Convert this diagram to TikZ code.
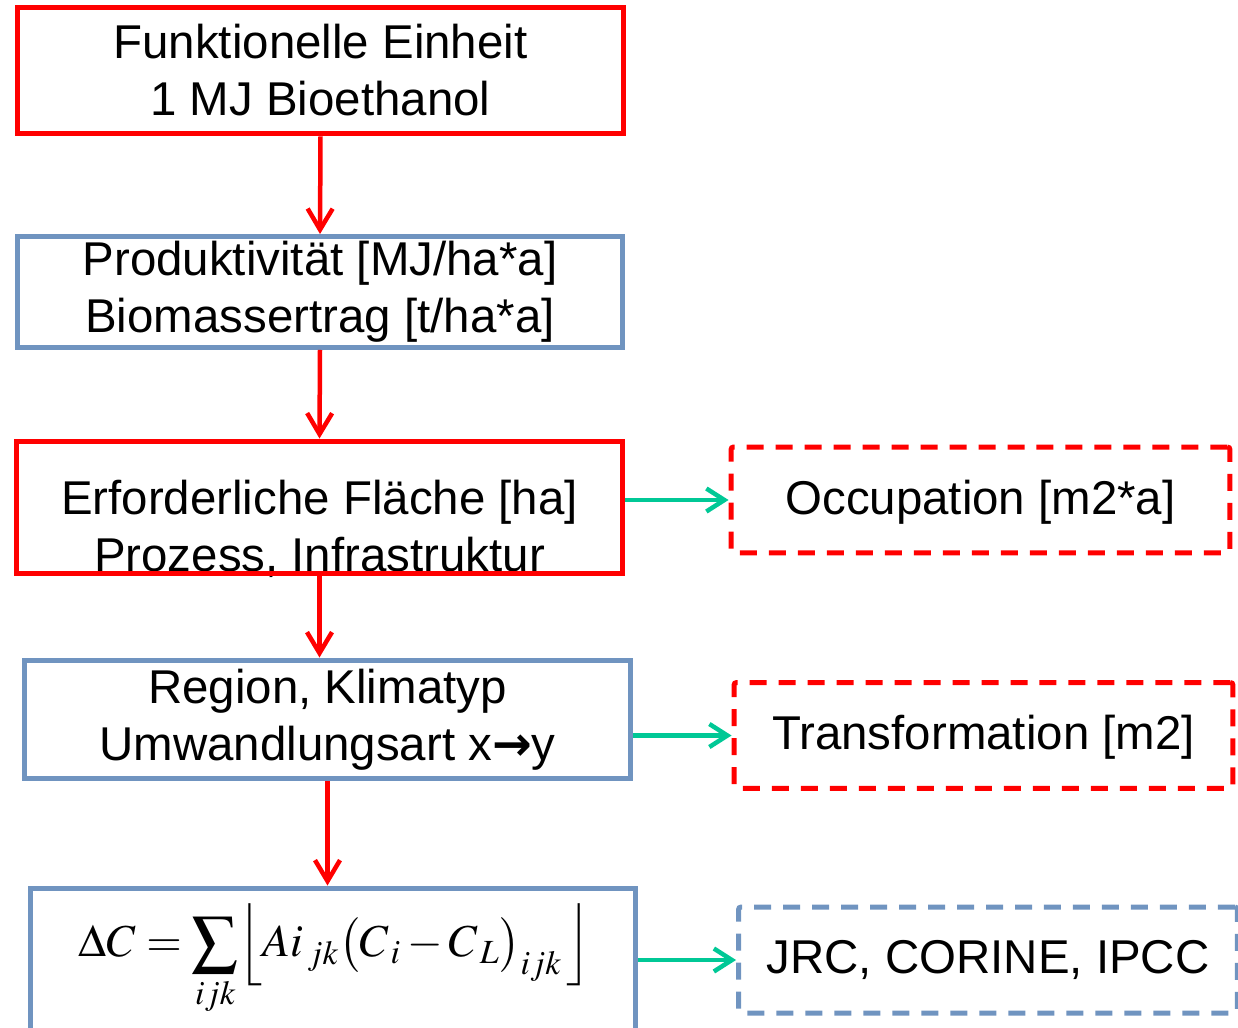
\documentclass[tikz,border=0pt]{standalone}
\usepackage{mathptmx}
\usepackage{fontspec}
\setmainfont{Liberation Sans}
\newfontfamily\pfeilfont{DejaVu Sans}
\usepackage{xcolor}
\usetikzlibrary{arrows.meta, calc}
\definecolor{boxred}{RGB}{255,0,0}
\definecolor{boxblue}{RGB}{112,148,192}
\definecolor{arrowgreen}{RGB}{0,200,150}
\tikzstyle{redbox} = [draw=boxred, line width=0.1cm, inner sep=0pt, minimum width=12.14cm, align=center]
\tikzstyle{bluebox} = [draw=boxblue, line width=0.1cm, inner sep=0pt, minimum width=12.12cm, align=center]
\tikzstyle{dashbox} = [line width=0.1cm, dash pattern=on 0.34cm off 0.24cm, rounded corners=0.05cm, minimum width=9.98cm, minimum height=2.12cm, text depth=0.12cm]
\tikzstyle{arrow} = [line width=0.09cm, draw=boxred, -{Straight Barb[length=0.42cm,width=0.5cm]}]
\tikzstyle{sidearrow} = [line width=0.09cm, draw=arrowgreen, -{Straight Barb[length=0.36cm,width=0.46cm]}]

\begin{document}
\begin{tikzpicture}[x=0.02cm, y=-0.02cm, every node/.style={font=\fontsize{27}{32.4}\selectfont}]
    \useasboundingbox (0,0) rectangle (1238,1028);
    \clip (0,0) rectangle (1238,1028);

    % Funktionelle Einheit
    \node[redbox, minimum height=2.54cm] (einheit) at (320.5, 70.5) {Funktionelle Einheit\\1 MJ Bioethanol};

    % Produktivitaet
    \node[bluebox, minimum height=2.22cm] (prod) at (320, 292) {Produktivität [MJ/ha*a]\\Biomassertrag [t/ha*a]};

    % Flaeche (Text ragt unter den Rahmen)
    \node[align=center, inner sep=0pt] (flaechetext) at (319.5, 529) {Erforderliche Fläche [ha]\\Prozess, Infrastruktur};
    \node[redbox, minimum height=2.66cm] (flaeche) at (319.5, 507.5) {};

    % Region
    \node[bluebox, minimum height=2.38cm] (region) at (327.5, 719.5) {Region, Klimatyp\\Umwandlungsart x{\pfeilfont\bfseries →}y};

    % Formel
    \node[bluebox, minimum height=3.44cm] (formel) at (333, 974) {};
    \node[font=\fontsize{26}{31}\selectfont] (formeltext) at (335, 960)
        {$\displaystyle \Delta C=\sum_{ijk}\Bigl\lfloor A i_{\,jk}\bigl(C_{\,i}-C_{\,L}\bigr)_{ijk}\,\Bigr\rfloor$};

    % Ergebnisse rechts
    \node[dashbox, draw=boxred] (occ) at (980.5, 500) {Occupation [m2*a]};
    \node[dashbox, draw=boxred] (trans) at (983.5, 735.5) {Transformation [m2]};
    \node[dashbox, draw=boxblue] (jrc) at (988, 960) {JRC, CORINE, IPCC};

    % Pfeile
    \draw[arrow] (einheit.south) -- (prod.north);
    \draw[arrow] (prod.south) -- (flaeche.north);
    \draw[arrow] (flaeche.south) -- (flaeche.south |- region.north);
    \draw[arrow] (region.south) -- (region.south |- formel.north);

    \draw[sidearrow] (flaeche.east |- occ.west) -- (occ.west);
    \draw[sidearrow] (trans.west -| region.east) -- (trans.west);
    \draw[sidearrow] (jrc.west -| formel.east) -- (jrc.west);
\end{tikzpicture}
\end{document}
